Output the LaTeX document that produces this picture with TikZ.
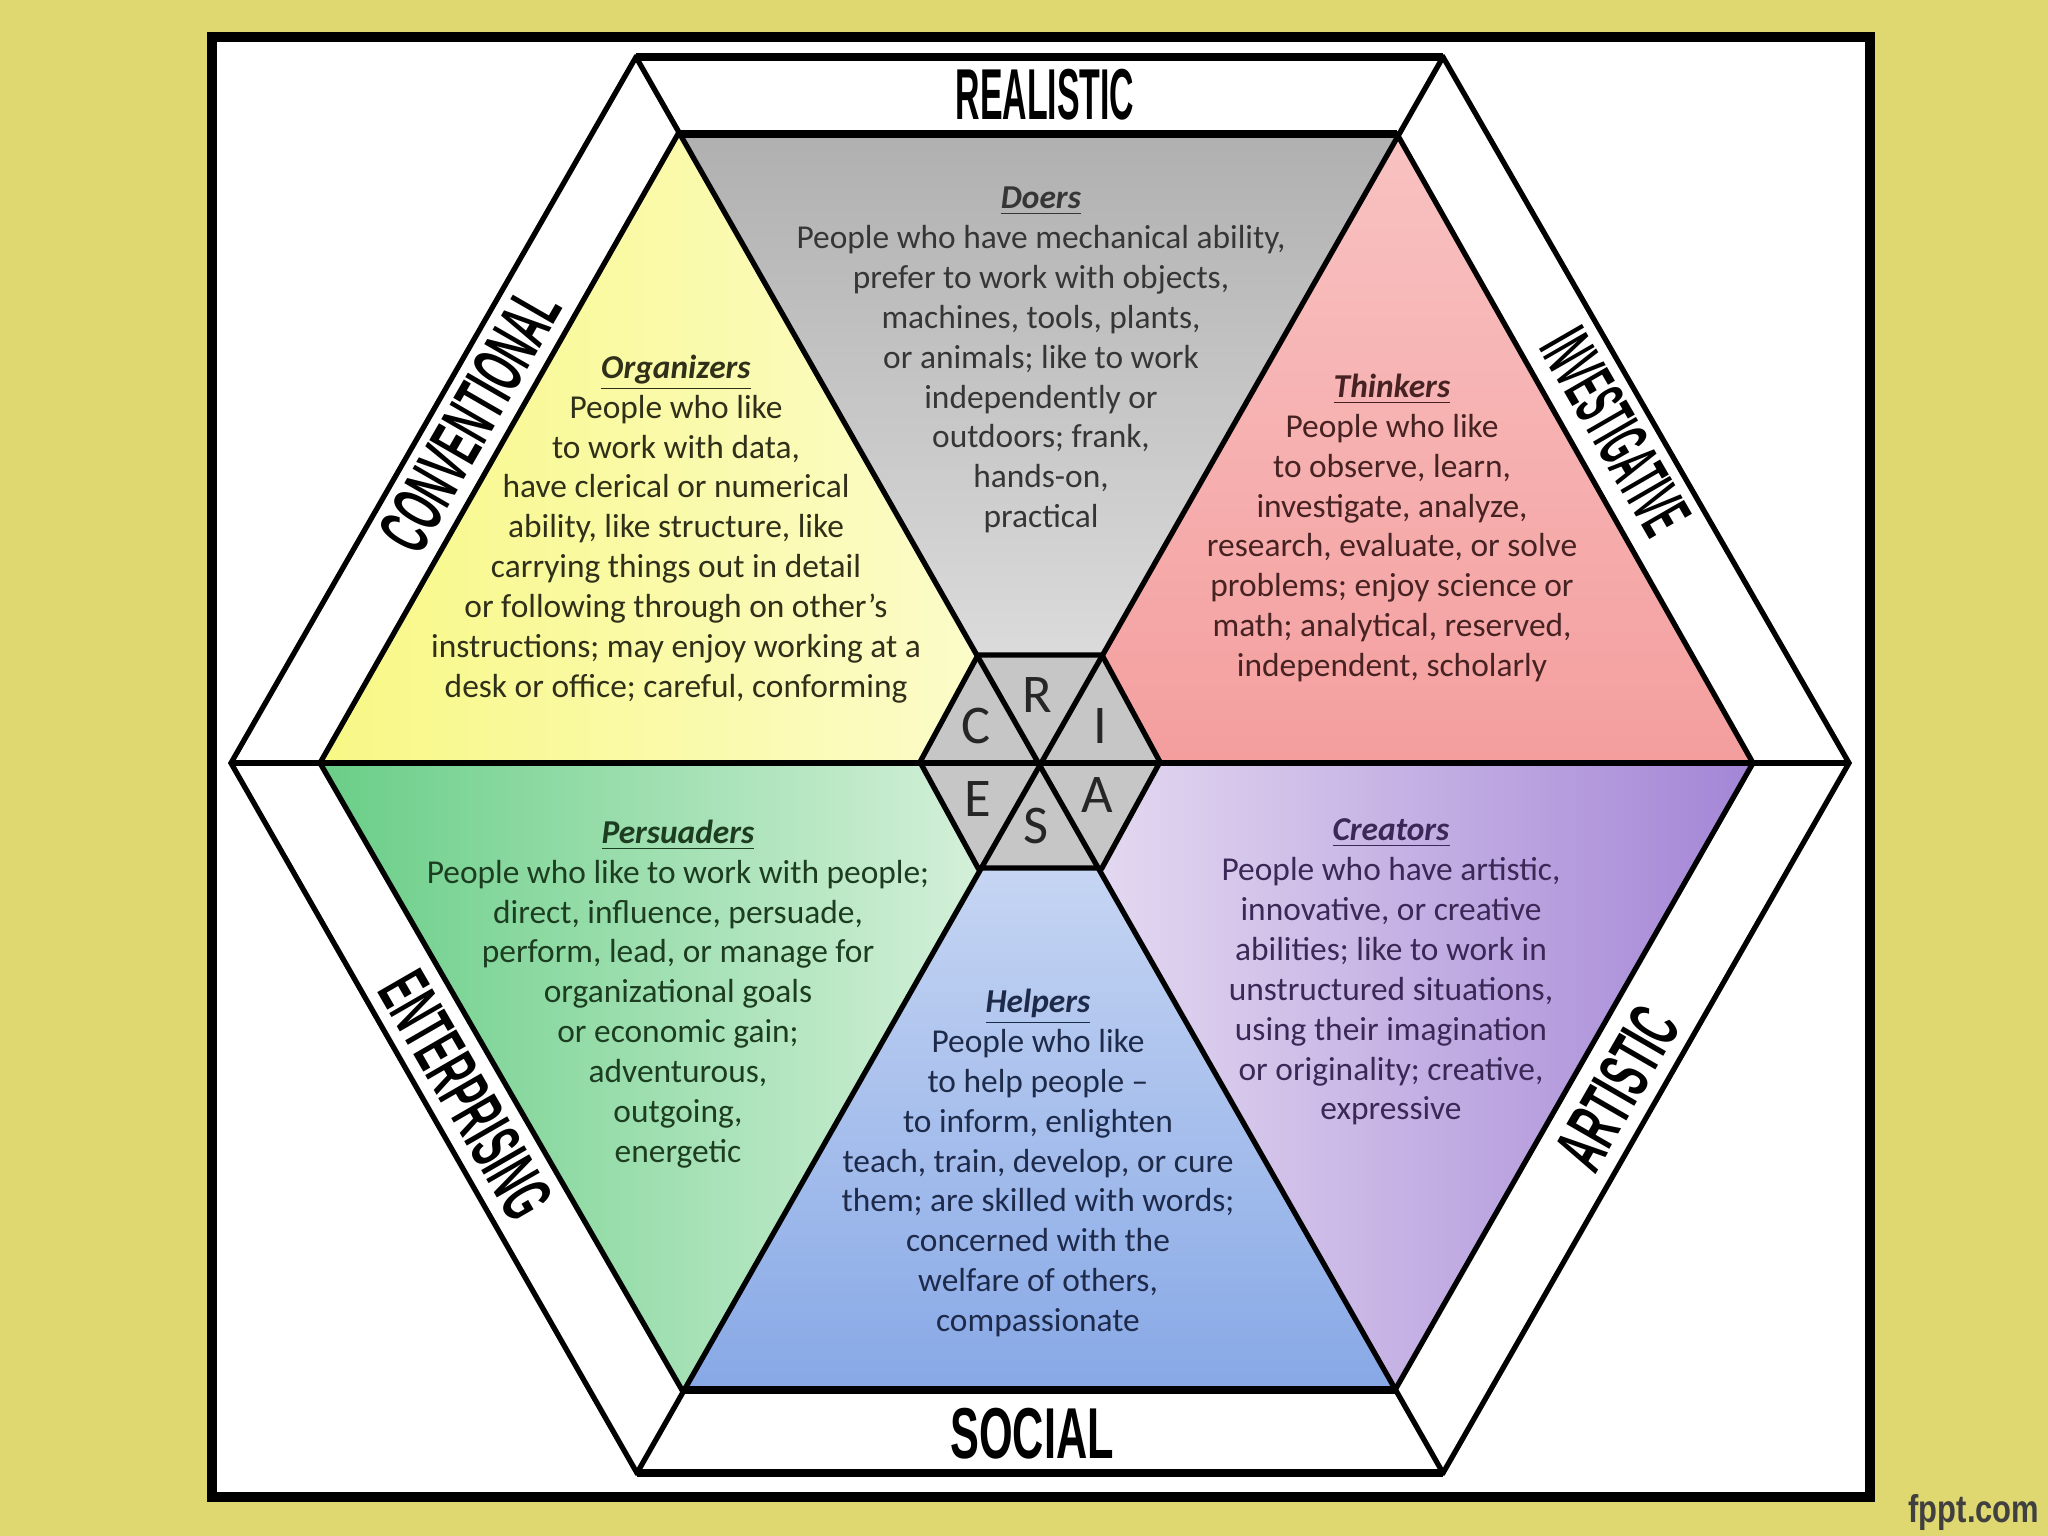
\documentclass[tikz,border=0pt]{standalone}
\usepackage{fontspec}
\setmainfont{Carlito}
\newfontfamily\bandfont{Liberation Sans}
\usepackage{graphicx}

\definecolor{bgyellow}{HTML}{DFD870}
\definecolor{doersA}{HTML}{B0B0B0}
\definecolor{doersB}{HTML}{E4E4E4}
\definecolor{thinkA}{HTML}{F9C2C2}
\definecolor{thinkB}{HTML}{F49E9E}
\definecolor{orgA}{HTML}{F8F885}
\definecolor{orgB}{HTML}{FCFCD0}
\definecolor{persA}{HTML}{69CE87}
\definecolor{persB}{HTML}{DDF3E0}
\definecolor{helpA}{HTML}{D2DEF5}
\definecolor{helpB}{HTML}{87A8E6}
\definecolor{creaA}{HTML}{E9E0F3}
\definecolor{creaB}{HTML}{A385D6}
\definecolor{hexgray}{HTML}{C6C6C6}
\definecolor{doersText}{HTML}{363636}
\definecolor{orgText}{HTML}{30301A}
\definecolor{thinkText}{HTML}{472222}
\definecolor{persText}{HTML}{1D3D21}
\definecolor{helpText}{HTML}{1E2A4A}
\definecolor{creaText}{HTML}{3C2856}

\tikzset{
  hexline/.style={line width=1.5pt, black},
  bandlabel/.style={font=\bandfont\bfseries\fontsize{20.5}{24}\selectfont, inner sep=0pt},
  typebox/.style={align=center, font=\fontsize{9.5}{11.35}\selectfont, inner sep=0pt},
  letter/.style={font=\fontsize{15.5}{18}\selectfont, inner sep=0pt, text=black!85},
}
\newcommand{\band}[2][0.5]{\scalebox{#1}[1]{#2}}
\newcommand{\typetitle}[1]{\underline{\textbf{\textit{#1}}}}

\begin{document}
\begin{tikzpicture}[x=0.01cm, y=-0.01cm]

        \useasboundingbox (0,0) rectangle (2048,1536);
        \fill[bgyellow] (0,0) rectangle (2048,1536);

        % frame
        \coordinate (frameNW) at (212,37);
        \coordinate (frameSE) at (1870,1497);
        \draw[line width=2.6pt, fill=white] (frameNW) rectangle (frameSE);

        \coordinate (C) at (1039,763);

        \coordinate (O1) at (1849,763);
        \coordinate (O2) at (1443,57);
        \coordinate (O3) at (636,57);
        \coordinate (O4) at (231,763);
        \coordinate (O5) at (637,1473);
        \coordinate (O6) at (1443,1473);

        \coordinate (I1) at (1753,763);
        \coordinate (I2) at (1397,134);
        \coordinate (I3) at (678,134);
        \coordinate (I4) at (320,763);
        \coordinate (I5) at (682,1390);
        \coordinate (I6) at (1395,1390);

        \coordinate (S1) at (1160,762);
        \coordinate (S2) at (1102,655);
        \coordinate (S3) at (978,655);
        \coordinate (S4) at (920,762);
        \coordinate (S5) at (978,868);
        \coordinate (S6) at (1102,868);

        % six types
        \shade[top color=doersA, bottom color=doersB] (I3) -- (I2) -- (C) -- cycle;
        \shade[top color=thinkA, bottom color=thinkB] (I2) -- (I1) -- (C) -- cycle;
        \shade[left color=orgA, right color=orgB] (I3) -- (I4) -- (C) -- cycle;
        \shade[left color=persA, right color=persB] (I4) -- (I5) -- (C) -- cycle;
        \shade[top color=helpA, bottom color=helpB] (I5) -- (I6) -- (C) -- cycle;
        \shade[left color=creaA, right color=creaB] (I6) -- (I1) -- (C) -- cycle;

        \fill[hexgray] (S1) -- (S2) -- (S3) -- (S4) -- (S5) -- (S6) -- cycle;

        \draw[hexline] (O1) -- (O2) -- (O3) -- (O4) -- (O5) -- (O6) -- cycle;
        \draw[hexline] (I1) -- (I2) -- (I3) -- (I4) -- (I5) -- (I6) -- cycle;
        \draw[hexline] (S1) -- (S2) -- (S3) -- (S4) -- (S5) -- (S6) -- cycle;
        \draw[hexline] (O1) -- (O4);
        \draw[hexline] (O2) -- (O5);
        \draw[hexline] (O3) -- (O6);

        % top and bottom edges look heavier
        \draw[line width=2.4pt] (O3) -- (O2);
        \draw[line width=2.4pt] (I3) -- (I2);
        \draw[line width=2.4pt] (I5) -- (I6);
        \draw[line width=2.4pt] (O5) -- (O6);

        \node[letter] (letR) at (1037,695) {R};
        \node[letter] (letI) at (1100,726) {I};
        \node[letter] (letA) at (1097,795) {A};
        \node[letter] (letS) at (1036,826) {S};
        \node[letter] (letE) at (978,799) {E};
        \node[letter] (letC) at (976,726) {C};

        \node[bandlabel] (realistic) at (1045,95) {\band[0.47]{REALISTIC}};
        \node[bandlabel, rotate=-60] (investigative) at (1616,432) {\band[0.41]{INVESTIGATIVE}};
        \node[bandlabel, rotate=60] (artistic) at (1617,1088) {\band[0.52]{ARTISTIC}};
        \node[bandlabel] (social) at (1032,1434) {\band[0.6]{SOCIAL}};
        \node[bandlabel, rotate=-60] (enterprising) at (466,1095) {\band{ENTERPRISING}};
        \node[bandlabel, rotate=60] (conventional) at (470,420) {\band{CONVENTIONAL}};

        \node[typebox, text=doersText] (doers) at (1041,360) {\typetitle{Doers}\\
            People who have mechanical ability,\\ prefer to work with objects,\\
            machines, tools, plants,\\ or animals; like to work\\
            independently or\\ outdoors; frank,\\ hands-on,\\ practical};
        \node[typebox, text=thinkText] (thinkers) at (1392,528) {\typetitle{Thinkers}\\
            People who like\\ to observe, learn,\\ investigate, analyze,\\
            research, evaluate, or solve\\ problems; enjoy science or\\
            math; analytical, reserved,\\ independent, scholarly};
        \node[typebox, text=creaText] (creators) at (1391,972) {\typetitle{Creators}\\
            People who have artistic,\\ innovative, or creative\\
            abilities; like to work in\\ unstructured situations,\\
            using their imagination\\ or originality; creative,\\ expressive};
        \node[typebox, text=helpText] (helpers) at (1038,1163) {\typetitle{Helpers}\\
            People who like\\ to help people –\\ to inform, enlighten\\
            teach, train, develop, or cure\\ them; are skilled with words;\\
            concerned with the\\ welfare of others,\\ compassionate};
        \node[typebox, text=persText] (persuaders) at (678,994) {\typetitle{Persuaders}\\
            People who like to work with people;\\ direct, influence, persuade,\\
            perform, lead, or manage for\\ organizational goals\\
            or economic gain;\\ adventurous,\\ outgoing,\\ energetic};
        \node[typebox, text=orgText] (organizers) at (676,529) {\typetitle{Organizers}\\
            People who like\\ to work with data,\\ have clerical or numerical\\
            ability, like structure, like\\ carrying things out in detail\\
            or following through on other’s\\ instructions; may enjoy working at a\\
            desk or office; careful, conforming};

        \node[anchor=east, inner sep=0pt, text=black!75, font=\bandfont\bfseries\fontsize{11}{13}\selectfont] (fppt) at (2040,1512) {\scalebox{0.8}[1]{fppt.com}};

    \end{tikzpicture}
\end{document}
